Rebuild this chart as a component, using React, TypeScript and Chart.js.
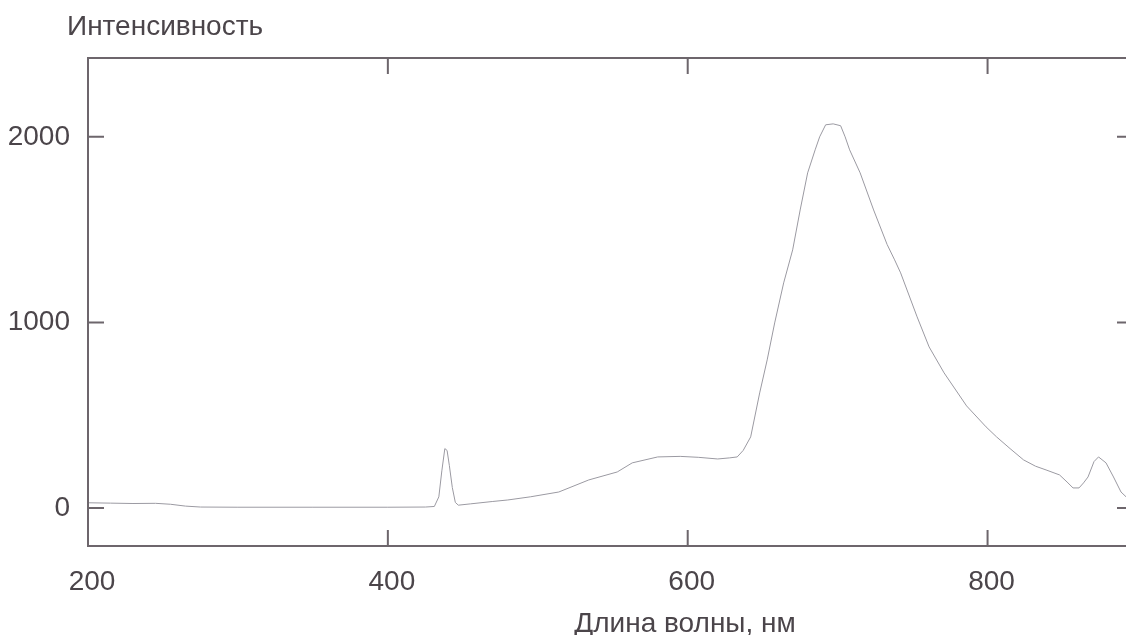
import React, { useEffect, useRef } from "react";
import { Chart, registerables } from "chart.js";

Chart.register(...registerables);

// Wavelength (nm) and intensity
const wavelengths = [
  200, 215, 230, 245, 255, 265, 275, 300, 350, 400, 425, 431, 434, 436, 438, 439.5, 441, 443, 445, 447,
  455, 470, 480, 495, 514, 534, 553, 563, 580, 595, 607, 620, 628, 633, 637, 642, 648, 653, 658, 664,
  670, 675, 680, 685, 688, 692, 697, 702, 705, 708, 715, 724, 733, 738, 742, 753, 761, 771, 786, 799,
  806, 815, 824, 832, 839, 848, 853, 857, 861, 864, 867, 871, 874, 879, 884, 889, 895,
];
const intensity = [
  28, 26, 24, 25, 20, 10, 5, 4, 4, 4, 5, 8, 60, 200, 320, 310, 230, 110, 30, 15,
  22, 35, 43, 60, 86, 151, 194, 243, 275, 278, 273, 264, 270, 275, 310, 383, 620, 798, 997, 1213,
  1391, 1606, 1806, 1930, 2000, 2065, 2070, 2060, 2000, 1930, 1806, 1606, 1420, 1337, 1267, 1030, 868, 728, 550, 437,
  383, 320, 259, 225, 205, 178, 140, 108, 108, 135, 167, 250, 275, 243, 167, 86, 40,
];
const xTicks = [200, 400, 600, 800];
const yTicks = [0, 1000, 2000];
const yTitle = "Интенсивность";
const xTitle = "Длина волны, нм";

const AXIS = "#6d666c";
const TEXT = "#4b454a";
const FONT = "Liberation Sans, Arial, sans-serif";

const framePlugin = {
  id: "frame",
  afterDraw(chart: any) {
    const { ctx, chartArea: a, scales } = chart;
    const xs = scales.x;
    const ys = scales.y;
    ctx.save();
    ctx.strokeStyle = AXIS;
    ctx.lineWidth = 2;
    ctx.strokeRect(a.left, a.top, a.right - a.left, a.bottom - a.top);
    const tl = 16;
    ctx.beginPath();
    for (const v of xTicks) {
      const px = xs.getPixelForValue(v);
      ctx.moveTo(px, a.bottom);
      ctx.lineTo(px, a.bottom - tl);
      ctx.moveTo(px, a.top);
      ctx.lineTo(px, a.top + tl);
    }
    for (const v of yTicks) {
      const py = ys.getPixelForValue(v);
      ctx.moveTo(a.left, py);
      ctx.lineTo(a.left + tl, py);
      ctx.moveTo(a.right, py);
      ctx.lineTo(a.right - tl, py);
    }
    ctx.stroke();
    ctx.fillStyle = TEXT;
    ctx.font = `28px ${FONT}`;
    ctx.textBaseline = "alphabetic";
    ctx.textAlign = "left";
    ctx.fillText(yTitle, 67, 35);
    ctx.textAlign = "center";
    ctx.fillText(xTitle, 685, 632);
    ctx.restore();
  },
};

export default function App() {
  const ref = useRef<HTMLCanvasElement>(null);
  useEffect(() => {
    const canvas = ref.current!;
    const chart = new Chart(canvas, {
      type: "line",
      data: {
        datasets: [
          {
            data: wavelengths.map((w, i) => ({ x: w, y: intensity[i] })),
            borderColor: "#9b9aa2",
            borderWidth: 1,
            pointRadius: 0,
            tension: 0,
            fill: false,
          },
        ],
      },
      options: {
        animation: false,
        responsive: false,
        devicePixelRatio: 1,
        layout: { padding: { left: 0, top: 58, right: 7, bottom: 0 } },
        plugins: { legend: { display: false }, tooltip: { enabled: false } },
        scales: {
          x: {
            type: "linear",
            min: 200,
            max: 897,
            border: { display: false },
            grid: { display: false, drawTicks: false },
            afterBuildTicks: (s: any) => {
              s.ticks = xTicks.map((v) => ({ value: v }));
            },
            afterFit: (s: any) => {
              s.height = 89;
            },
            ticks: {
              padding: 19,
              color: TEXT,
              font: { size: 28, family: FONT },
              labelOffset: 4,
              maxRotation: 0,
              autoSkip: false,
              callback: (v: any) => String(v),
            },
          },
          y: {
            type: "linear",
            min: -205,
            max: 2425,
            border: { display: false },
            grid: { display: false, drawTicks: false },
            afterBuildTicks: (s: any) => {
              s.ticks = yTicks.map((v) => ({ value: v }));
            },
            afterFit: (s: any) => {
              s.width = 88;
            },
            ticks: {
              padding: 18,
              color: TEXT,
              font: { size: 28, family: FONT },
              callback: (v: any) => String(v),
            },
          },
        },
      },
      plugins: [framePlugin],
    });
    return () => chart.destroy();
  }, []);
  return (
    <div
      style={{
        position: "fixed",
        left: 0,
        top: 0,
        width: 1126,
        height: 635,
        overflow: "hidden",
        background: "#fff",
      }}
    >
      <canvas ref={ref} width={1140} height={635} style={{ display: "block" }} />
    </div>
  );
}
